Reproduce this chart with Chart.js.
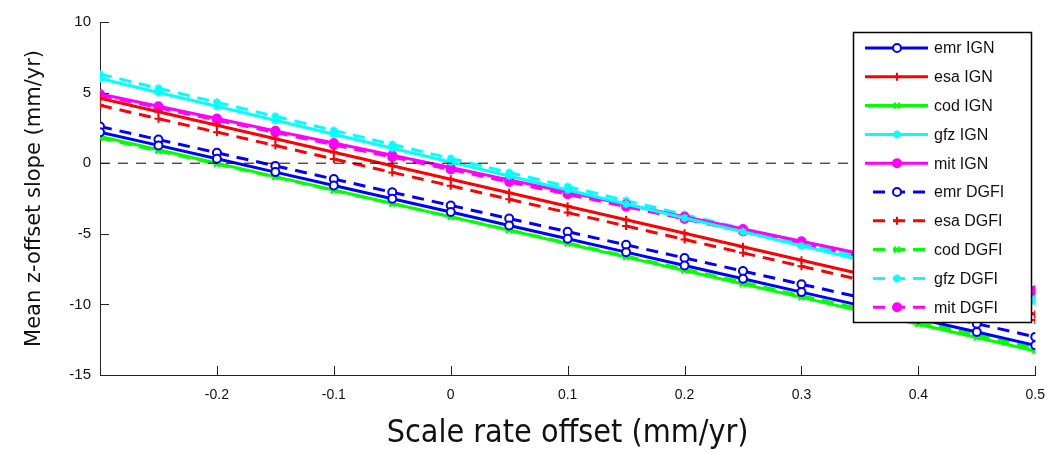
<!DOCTYPE html>
<html>
<head>
<meta charset="utf-8">
<script src="https://cdn.jsdelivr.net/npm/chart.js@4.4.1/dist/chart.umd.min.js"></script>
<style>
  html, body { margin: 0; padding: 0; background: #fff; }
  #wrap { width: 1057px; height: 453px; }
</style>
</head>
<body>
<div id="wrap"><canvas id="slopeChart"></canvas></div>
<script>
// scale rate offset (mm/yr)
const scaleOffsets = [-0.3, -0.25, -0.2, -0.15, -0.1, -0.05, 0, 0.05, 0.1, 0.15, 0.2, 0.25, 0.3, 0.35, 0.4, 0.45, 0.5];

// mean z-offset slope (mm/yr), IGN solution
const emrIGN = [2.2, 1.26, 0.31, -0.63, -1.58, -2.52, -3.46, -4.41, -5.35, -6.3, -7.24, -8.18, -9.13, -10.07, -11.02, -11.96, -12.9];
const esaIGN = [4.6, 3.64, 2.69, 1.73, 0.78, -0.18, -1.14, -2.09, -3.05, -4.0, -4.96, -5.92, -6.87, -7.83, -8.78, -9.74, -10.7];
const codIGN = [1.9, 0.95, 0.0, -0.95, -1.9, -2.85, -3.8, -4.75, -5.7, -6.65, -7.6, -8.55, -9.5, -10.45, -11.4, -12.35, -13.3];
const gfzIGN = [6.0, 5.01, 4.03, 3.04, 2.05, 1.06, 0.08, -0.91, -1.9, -2.89, -3.88, -4.86, -5.85, -6.84, -7.83, -8.81, -9.8];
const mitIGN = [4.9, 4.03, 3.16, 2.29, 1.43, 0.56, -0.31, -1.18, -2.05, -2.92, -3.79, -4.66, -5.53, -6.4, -7.26, -8.13, -9.0];

// mean z-offset slope (mm/yr), DGFI solution
const emrDGFI = [2.6, 1.67, 0.74, -0.19, -1.12, -2.06, -2.99, -3.92, -4.85, -5.78, -6.71, -7.64, -8.57, -9.5, -10.44, -11.37, -12.3];
const esaDGFI = [4.1, 3.15, 2.2, 1.25, 0.3, -0.65, -1.6, -2.55, -3.5, -4.45, -5.4, -6.35, -7.3, -8.25, -9.2, -10.15, -11.1];
const codDGFI = [1.8, 0.87, -0.06, -0.99, -1.93, -2.86, -3.79, -4.72, -5.65, -6.58, -7.51, -8.44, -9.38, -10.31, -11.24, -12.17, -13.1];
const gfzDGFI = [6.3, 5.31, 4.31, 3.32, 2.32, 1.33, 0.34, -0.66, -1.65, -2.65, -3.64, -4.63, -5.63, -6.62, -7.62, -8.61, -9.6];
const mitDGFI = [4.8, 3.93, 3.05, 2.18, 1.3, 0.43, -0.45, -1.33, -2.2, -3.08, -3.95, -4.83, -5.7, -6.58, -7.45, -8.33, -9.2];

const xTicks = [-0.2, -0.1, 0, 0.1, 0.2, 0.3, 0.4, 0.5];
const yTicks = [-15, -10, -5, 0, 5, 10];

const FONT = "'Liberation Sans', Arial, sans-serif";
const DASH = [12, 8];

function series(label, values, color, pointStyle, dashed, fill) {
    return {
        label: label,
        data: scaleOffsets.map((x, i) => ({ x: x, y: values[i] })),
        borderColor: color,
        backgroundColor: fill,
        borderWidth: 3,
        borderDash: dashed ? DASH : [],
        pointStyle: pointStyle,
        pointRadius: 4,
        pointBorderWidth: 2,
        pointBorderColor: color,
        pointBackgroundColor: fill,
        tension: 0
    };
}

const datasets = [
    series('emr IGN', emrIGN, '#0000ff', 'circle', false, '#ffffff'),
    series('esa IGN', esaIGN, '#ff0000', 'cross', false, '#ff0000'),
    series('cod IGN', codIGN, '#00ff00', 'crossRot', false, '#00ff00'),
    series('gfz IGN', gfzIGN, '#00ffff', 'star', false, '#00ffff'),
    series('mit IGN', mitIGN, '#ff00ff', 'circle', false, '#ff00ff'),
    series('emr DGFI', emrDGFI, '#0000ff', 'circle', true, '#ffffff'),
    series('esa DGFI', esaDGFI, '#ff0000', 'cross', true, '#ff0000'),
    series('cod DGFI', codDGFI, '#00ff00', 'crossRot', true, '#00ff00'),
    series('gfz DGFI', gfzDGFI, '#00ffff', 'star', true, '#00ffff'),
    series('mit DGFI', mitDGFI, '#ff00ff', 'circle', true, '#ff00ff')
];

// zero reference line
datasets.unshift({
    label: 'zero',
    data: [{ x: scaleOffsets[0], y: 0 }, { x: scaleOffsets[scaleOffsets.length - 1], y: 0 }],
    borderColor: '#000000',
    borderWidth: 1,
    borderDash: [10, 8],
    pointRadius: 0,
    hideInLegend: true
});

// MATLAB style ticks drawn inside the axes
const insideTicks = {
    id: 'insideTicks',
    afterDraw(chart) {
        const ctx = chart.ctx;
        const area = chart.chartArea;
        const xs = chart.scales.x, ys = chart.scales.y;
        ctx.save();
        ctx.strokeStyle = '#222';
        ctx.lineWidth = 1;
        ctx.beginPath();
        xTicks.forEach(v => {
            const px = Math.round(xs.getPixelForValue(v)) + 0.5;
            ctx.moveTo(px, area.bottom);
            ctx.lineTo(px, area.bottom - 9);
        });
        yTicks.forEach(v => {
            const py = Math.round(ys.getPixelForValue(v)) + 0.5;
            ctx.moveTo(area.left, py);
            ctx.lineTo(area.left + 9, py);
        });
        ctx.stroke();
        ctx.restore();
    }
};

// boxed legend inside the plot, top right
const boxLegend = {
    id: 'boxLegend',
    afterDraw(chart) {
        const ctx = chart.ctx;
        const left = 853, top = 32, width = 178, height = 290;
        ctx.save();
        ctx.fillStyle = '#ffffff';
        ctx.fillRect(left, top, width, height);
        ctx.strokeStyle = '#000000';
        ctx.lineWidth = 1.5;
        ctx.strokeRect(left + 0.5, top + 0.5, width, height);
        let row = 0;
        chart.data.datasets.forEach(ds => {
            if (ds.hideInLegend) return;
            const y = top + 16 + row * 28.8;
            ctx.strokeStyle = ds.borderColor;
            ctx.lineWidth = 3;
            ctx.setLineDash(ds.borderDash);
            ctx.beginPath();
            if (ds.borderDash.length) {
                ctx.moveTo(873, y);
                ctx.lineTo(928, y);
            } else {
                ctx.moveTo(865, y);
                ctx.lineTo(928, y);
            }
            ctx.stroke();
            ctx.setLineDash([]);
            ctx.fillStyle = ds.pointBackgroundColor;
            ctx.lineWidth = 2;
            Chart.helpers.drawPoint(ctx, { pointStyle: ds.pointStyle, radius: 4, rotation: 0, borderWidth: 2 }, 897, y);
            ctx.fillStyle = '#111';
            ctx.font = '16px ' + FONT;
            ctx.textBaseline = 'middle';
            ctx.textAlign = 'left';
            ctx.fillText(ds.label, 934, y + 1);
            row++;
        });
        ctx.restore();
    }
};

const ctx = document.getElementById('slopeChart').getContext('2d');
new Chart(ctx, {
    type: 'line',
    data: { datasets: datasets },
    plugins: [insideTicks, boxLegend],
    options: {
        responsive: true,
        maintainAspectRatio: false,
        animation: false,
        layout: { padding: { left: 0, top: 22, right: 13, bottom: 0 } },
        plugins: {
            legend: { display: false },
            tooltip: { enabled: false }
        },
        scales: {
            x: {
                type: 'linear',
                min: -0.3,
                max: 0.5,
                afterFit: s => { s.height = 78; },
                afterBuildTicks: s => { s.ticks = xTicks.map(v => ({ value: v })); },
                grid: { display: false, drawTicks: false },
                border: { display: true, color: '#222', width: 1 },
                ticks: {
                    padding: 12,
                    color: '#111',
                    font: { family: FONT, size: 14 },
                    callback: v => String(Math.round(v * 10) / 10)
                },
                title: {
                    display: true,
                    text: 'Scale rate offset (mm/yr)',
                    color: '#111',
                    font: { family: "'Liberation Sans Narrow', 'DejaVu Sans Condensed', sans-serif", size: 32 },
                    padding: { top: 6, bottom: 0 }
                }
            },
            y: {
                min: -15,
                max: 10,
                afterFit: s => { s.width = 100; },
                afterBuildTicks: s => { s.ticks = yTicks.map(v => ({ value: v })); },
                grid: { display: false, drawTicks: false },
                border: { display: true, color: '#222', width: 1 },
                ticks: {
                    padding: 9,
                    color: '#111',
                    font: { family: FONT, size: 15 }
                },
                title: {
                    display: true,
                    text: 'Mean z-offset slope (mm/yr)',
                    color: '#111',
                    font: { family: "'DejaVu Sans', sans-serif", size: 21 },
                    padding: { top: 22, bottom: 4 }
                }
            }
        }
    }
});
</script>
</body>
</html>
